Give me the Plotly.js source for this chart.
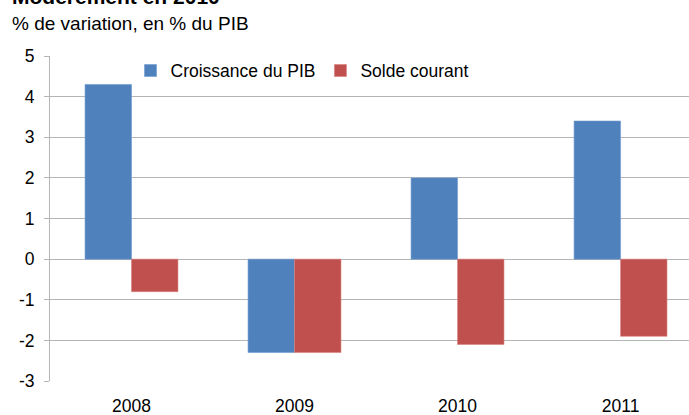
<!DOCTYPE html>
<html>
<head>
<meta charset="utf-8">
<script src="https://cdn.plot.ly/plotly-3.0.1.min.js"></script>
<style>html,body{margin:0;padding:0;background:#fff;}#chart{width:689px;height:415px;}</style>
</head>
<body>
<div id="chart"></div>
<script>
const years = ["2008", "2009", "2010", "2011"];
const croissancePIB = [4.3, -2.3, 2.0, 3.4];
const soldeCourant = [-0.8, -2.3, -2.1, -1.9];
const seriesNames = ["Croissance du PIB", "Solde courant"];
const yTicks = [-3, -2, -1, 0, 1, 2, 3, 4, 5];

const FONT = "Liberation Sans, Arial, sans-serif";

const traces = [
  {type: "bar", x: years, y: croissancePIB, name: seriesNames[0],
   marker: {color: "#4F81BD", line: {color: "#6f9bd0", width: 0.6}}},
  {type: "bar", x: years, y: soldeCourant, name: seriesNames[1],
   marker: {color: "#C0504D", line: {color: "#d9827f", width: 0.6}}}
];

const layout = {
  width: 689, height: 415,
  margin: {l: 50, r: 0, t: 56, b: 34},
  paper_bgcolor: "#fff", plot_bgcolor: "#fff",
  font: {family: FONT, size: 17.5, color: "#000"},
  barmode: "group", bargap: 0.43, bargroupgap: 0,
  showlegend: true,
  legend: {orientation: "h", x: 0.126, y: 0.955, xanchor: "left", yanchor: "middle",
           font: {family: FONT, size: 17.5, color: "#000"}, itemwidth: 30,
           bgcolor: "rgba(255,255,255,0)", traceorder: "normal"},
  xaxis: {type: "category", range: [-0.5, 3.42], showgrid: false, showline: false,
          ticks: "", zeroline: false, tickfont: {family: FONT, size: 17.5, color: "#000"},
          ticklabelstandoff: 12},
  xaxis2: {overlaying: "x", anchor: "free", position: 0.375, type: "linear",
           range: [-0.5, 3.42], tickvals: [0.5, 1.5, 2.5], ticks: "outside", ticklen: 5,
           tickcolor: "#999", tickwidth: 1, showticklabels: false, showline: true,
           linecolor: "#999", linewidth: 1, showgrid: false, zeroline: false, side: "bottom"},
  yaxis: {range: [-3, 5], tickvals: yTicks, ticktext: yTicks.map(String),
          showgrid: true, gridcolor: "#b5b5b5", gridwidth: 1, zeroline: false,
          showline: true, linecolor: "#b5b5b5", linewidth: 1, ticks: "outside", ticklen: 5,
          tickcolor: "#b5b5b5", tickfont: {family: FONT, size: 17.5, color: "#000"},
          ticklabelstandoff: 6},
  annotations: [
    {text: "<b>Modérément en 2010</b>", xref: "paper", yref: "paper", x: -0.062, y: 1.143,
     xanchor: "left", yanchor: "bottom", showarrow: false,
     font: {family: FONT, size: 21, color: "#000"}},
    {text: "% de variation, en % du PIB", xref: "paper", yref: "paper", x: -0.062, y: 1.1,
     xanchor: "left", yanchor: "middle", showarrow: false,
     font: {family: FONT, size: 19, color: "#000"}}
  ]
};

Plotly.newPlot("chart", traces, layout, {displayModeBar: false, staticPlot: true});
</script>
</body>
</html>
